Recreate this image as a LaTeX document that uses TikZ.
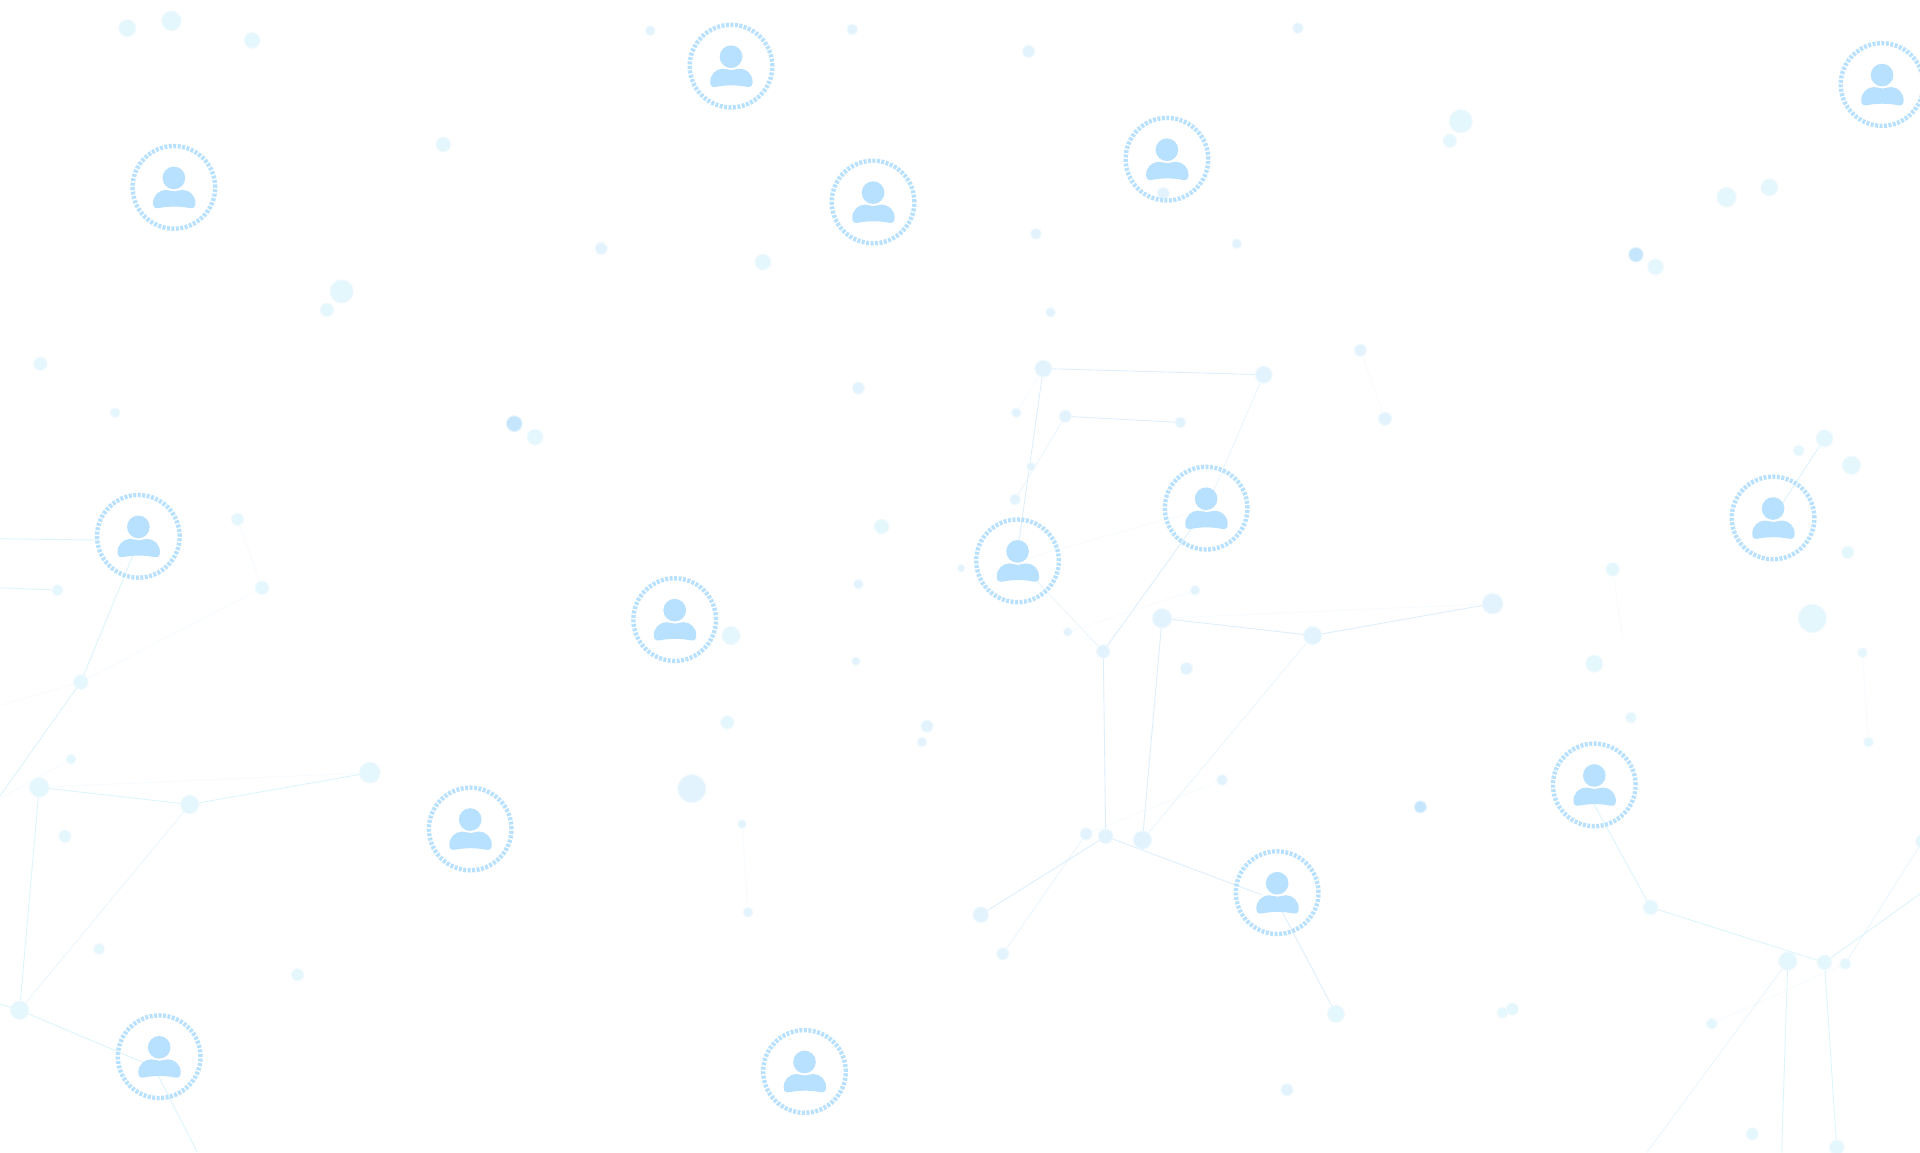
\documentclass[tikz,border=0pt]{standalone}
\usetikzlibrary{backgrounds}
\definecolor{pb}{HTML}{B8E0FF}
\definecolor{dotb}{HTML}{E3F3FD}
\definecolor{dotc}{HTML}{E3F7FD}
\definecolor{dotd}{HTML}{C4E5FC}
\definecolor{halo}{HTML}{EFF9FE}
\definecolor{lineb}{HTML}{DDEFFD}
\definecolor{linec}{HTML}{DCF5FC}
\definecolor{linem}{HTML}{EAF6FE}
\definecolor{linef}{HTML}{F6FCFF}
\tikzset{
 x=1pt,y=-1pt,
 dotnode/.style={circle,inner sep=0pt,draw=halo,line width=.8pt},
 bd/.style={dotnode,fill=dotb},
 cd/.style={dotnode,fill=dotc},
 dd/.style={dotnode,fill=dotd,draw=dotb},
 ringnode/.style={circle,inner sep=0pt,minimum size=67.5pt,draw=pb,line width=3.6pt,dash pattern=on 2.4pt off 1.25pt},
 headnode/.style={circle,inner sep=0pt,minimum size=18.5pt,fill=pb},
 bodyshape/.style={fill=pb},
 eb/.style={draw=lineb,line width=.7pt},
 ec/.style={draw=linec,line width=.7pt},
 em/.style={draw=linem,line width=.7pt},
 ef/.style={draw=linef,line width=.7pt},
}
\newcommand\dt[5][bd]{\node[#1,minimum size=#5pt+.8pt] (#2) at (#3,#4) {};}
\newcommand\person[3]{%
 \node[ringnode] (#1) at (#2,#3) {};
 \begin{scope}[shift={(#2+.3,#3+.3)}]
  \node[headnode] (#1h) at (-.3,-8) {};
  \fill[bodyshape] (-17.3,13) .. controls (-17.6,6.5) and (-12.5,1.8) .. (-7,1.8)
    .. controls (-4,1.8) and (-2.5,3) .. (0,3)
    .. controls (2.5,3) and (4,1.8) .. (7,1.8)
    .. controls (12.5,1.8) and (17.6,6.5) .. (17.3,13)
    .. controls (17.2,16.6) and (15,17) .. (12.5,16.6)
    .. controls (5,15) and (-5,15) .. (-12.5,16.6)
    .. controls (-15,17) and (-17.2,16.6) .. (-17.3,13) -- cycle;
 \end{scope}}
\begin{document}
\begin{tikzpicture}
\useasboundingbox (0,0) rectangle (1568,940.8);
% free ends
\coordinate (f1) at (0,440); \coordinate (f2) at (0,480);
\coordinate (f3) at (0,650); \coordinate (f4) at (0,820);
\coordinate (f5) at (161,941); \coordinate (f6) at (1568,730);
\coordinate (f7) at (1455,941); \coordinate (f8) at (1345,941);
\coordinate (f9) at (0,576); \coordinate (f10) at (0,652);
\coordinate (f11) at (1325,520);
% connector ends on the figures
\coordinate (q6) at (110,450); \coordinate (q6l) at (80,441);
\coordinate (q12) at (1298,650); \coordinate (q13a) at (1031,731);
\coordinate (q13b) at (1041,733); \coordinate (q14) at (128,876);
\coordinate (q14l) at (118,868);
% dots
\dt[cd]{a1}{104}{23}{13}\dt[cd]{a2}{140}{17}{15}\dt[cd]{a3}{206}{33}{12}
\dt{a4}{531}{25}{7}\dt{a5}{696}{24}{8}\dt{a6}{840}{42}{9}\dt{a7}{1060}{23}{8}
\dt[cd]{a8}{362}{118}{11}\dt[cd]{a9}{1193}{99}{18}\dt[cd]{a10}{1184}{115}{10}
\dt[cd]{a11}{1410}{161}{15}\dt[cd]{a12}{1445}{153}{13}\dt[dd]{a13}{1336}{208}{11}
\dt[cd]{a14}{1352}{218}{12}\dt{a15}{491}{203}{9}\dt[cd]{a16}{623}{214}{12}
\dt{a17}{846}{191}{8}\dt{a18}{1010}{199}{7}\dt{a19}{858}{255}{7}
\dt[cd]{a20}{279}{238}{18}\dt[cd]{a21}{267}{253}{10}\dt[cd]{a22}{33}{297}{10}
\dt[cd]{a23}{94}{337}{7}\dt{a24}{701}{317}{9}\dt[dd]{a25}{420}{346}{12}
\dt[cd]{a26}{437}{357}{12}\dt{a27}{950}{158}{9}
\dt{b1}{852}{301}{13}\dt{b2}{1032}{306}{13}\dt{b3}{830}{337}{7}
\dt{b4}{870}{340}{9}\dt{b5}{964}{345}{8}\dt{b6}{1111}{286}{9}\dt{b7}{1131}{342}{10}
\dt{b8}{842}{381}{6}\dt{b9}{829}{408}{8}\dt[cd]{b10}{720}{430}{11}\dt{b11}{785}{464}{5}
\dt[cd]{c1}{194}{424}{9}\dt[cd]{c2}{214}{480}{10}\dt[cd]{c3}{47}{482}{8}
\dt{c4}{701}{477}{7}\dt{c5}{976}{482}{7}\dt{c6}{872}{516}{6}\dt{c7}{901}{532}{10}
\dt{c8}{949}{505}{15}\dt{c9}{1072}{519}{14}\dt{c10}{1219}{493}{16}\dt{c11}{969}{546}{9}
\dt[cd]{d1}{1469}{368}{8}\dt[cd]{d2}{1490}{358}{13}\dt[cd]{d3}{1512}{380}{14}
\dt[cd]{d4}{1509}{451}{9}\dt[cd]{d5}{1317}{465}{10}\dt[cd]{d6}{1480}{505}{22}
\dt[cd]{d7}{1521}{533}{7}\dt[cd]{d8}{1302}{542}{13}\dt[cd]{d9}{1332}{586}{8}
\dt[cd]{d10}{1526}{606}{7}
\dt[cd]{e1}{597}{519}{14}\dt{e2}{699}{540}{6}\dt[cd]{e3}{66}{557}{11}\dt[cd]{e4}{594}{590}{10}
\dt{e5}{757}{593}{9}\dt{e6}{753}{606}{7}\dt[cd]{e7}{58}{620}{7}
\dt[cd]{g1}{32}{643}{15}\dt[cd]{g2}{155}{657}{14}\dt[cd]{g3}{302}{631}{16}
\dt{g4}{565}{644}{22}\dt{g5}{998}{637}{8}\dt[dd]{g6}{1160}{659}{9}\dt[cd]{g7}{53}{683}{9}
\dt{g8}{606}{673}{6}
\dt{h1}{887}{681}{9}\dt{h2}{903}{683}{11}\dt{h3}{933}{686}{14}
\dt{h4}{611}{745}{7}\dt{h5}{801}{747}{12}\dt{h6}{819}{779}{9}
\dt[cd]{h7}{81}{775}{8}\dt[cd]{h8}{243}{796}{9}
\dt[cd]{i1}{1348}{741}{11}\dt[cd]{i2}{1460}{785}{14}\dt[cd]{i3}{1490}{786}{11}
\dt[cd]{i4}{1507}{787}{8}\dt[cd]{i5}{1570}{687}{10}\dt[cd]{i6}{16}{825}{14}
\dt[cd]{i7}{1091}{828}{13}\dt[cd]{i8}{1227}{827}{8}\dt[cd]{i9}{1235}{824}{9}
\dt[cd]{i10}{1398}{836}{8}\dt{i11}{1051}{890}{9}\dt[cd]{i12}{1431}{926}{9}\dt[cd]{i13}{1500}{937}{11}
% people
\person{p1}{597}{54}\person{p2}{142}{153}\person{p3}{713}{165}\person{p4}{953}{130}
\person{p5}{1537}{69}\person{p6}{113}{438}\person{p7}{551}{506}\person{p8}{831}{458}
\person{p9}{985}{415}\person{p10}{1448}{423}\person{p11}{384}{677}\person{p12}{1302}{641}
\person{p13}{1043}{729}\person{p14}{130}{863}\person{p15}{657}{875}
% connectors
\begin{scope}[on background layer]
 \fill[white] (0,0) rectangle (1568,940.8);
 \path[ef] (c8.center)--(c10.center) (g1.center)--(g3.center) (p8.center)--(p9.center)
  (c6.center)--(c5.center) (e3.center)--(c2.center) (e3.center)--(f9)
  (e7.center)--(f10) (i10.center)--(i4.center) (h1.center)--(g5.center)
  (b6.center)--(b7.center) (c1.center)--(c2.center) (d5.center)--(f11)
  (g8.center)--(h4.center) (d7.center)--(d10.center) (b3.center)--(b1.center);
 \path[em] (b2.center)--(p9.center) (p8.center)--(c7.center) (c9.center)--(h3.center)
  (h1.center)--(h6.center) (b4.center)--(b9.center) (p6.center)--(q6)
  (g2.center)--(i6.center) (i4.center)--(i5.center) (i2.center)--(f8);
 \path[eb] (b1.center)--(b2.center) (b1.center)--(p8h.center) (b4.center)--(b5.center)
  (p9.center)--(c7.center) (c7.center)--(h2.center) (c8.center)--(c9.center)
  (c9.center)--(c10.center) (c8.center)--(h3.center)
  (h2.center)--(h5.center) (h2.center)--(q13a)
  (q13b)--(i7.center);
 \path[ec] (q6l)--(f1) (c3.center)--(f2) (q6)--(e3.center) (e3.center)--(f3)
  (g1.center)--(g2.center) (g2.center)--(g3.center) (g1.center)--(i6.center)
  (i6.center)--(q14l) (i6.center)--(f4)
  (q14)--(f5) (q12)--(i1.center) (i1.center)--(i3.center)
  (i3.center)--(f6) (i2.center)--(f7)
  (i3.center)--(i13.center) (d2.center)--(p10.center);
\end{scope}
\end{tikzpicture}
\end{document}
